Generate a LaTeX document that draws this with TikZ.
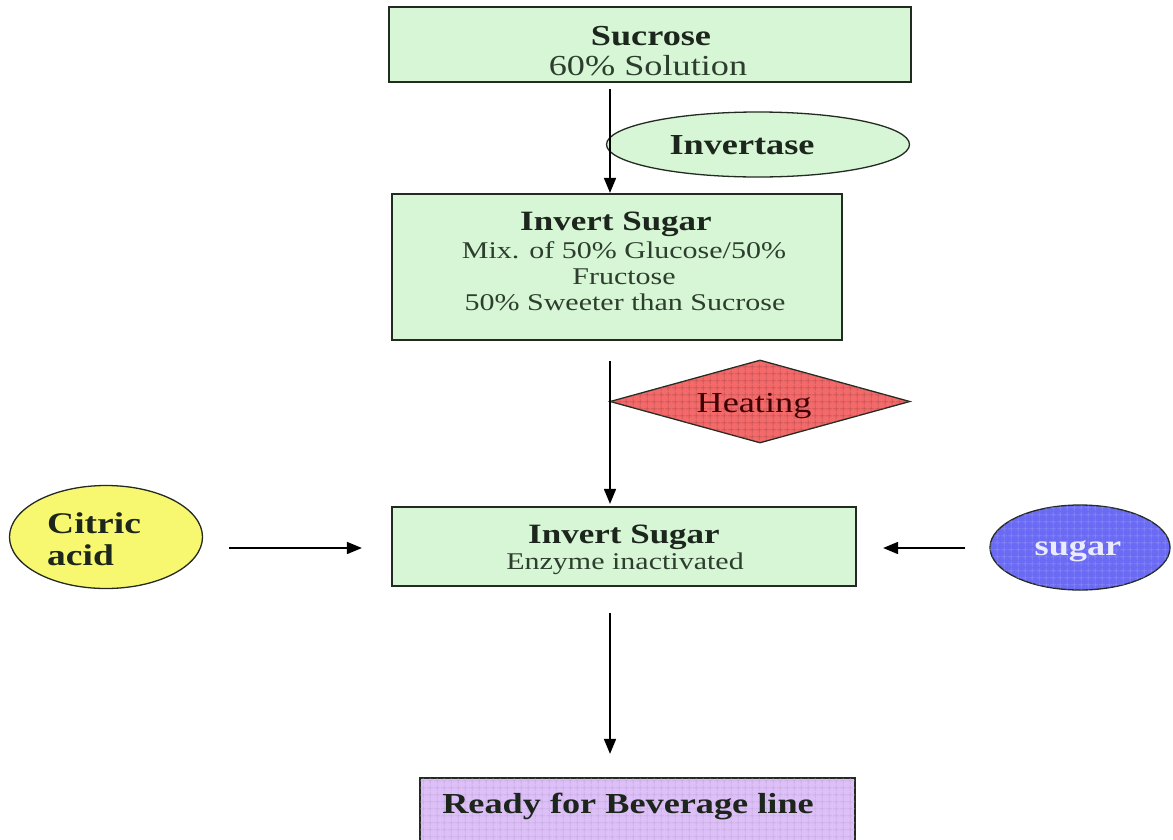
\documentclass[tikz,border=0pt]{standalone}
\usepackage{fontspec}
\setmainfont{Liberation Serif}[FakeStretch=1.25]
\usetikzlibrary{shapes.geometric,arrows.meta,patterns.meta}
\definecolor{boxgreen}{HTML}{D6F6D6}
\definecolor{heatred}{HTML}{F46A6A}
\definecolor{cityellow}{HTML}{F8F870}
\definecolor{sugblue}{HTML}{6A6AF4}
\definecolor{readypurple}{HTML}{DEC0F8}
\definecolor{ink}{HTML}{1C261C}
\definecolor{inklight}{HTML}{2E3E2E}
\definecolor{edge}{HTML}{222A22}
\tikzdeclarepattern{name=fgrid, type=uncolored,
  bounding box={(0pt,0pt) and (7pt,7pt)}, tile size={(7pt,7pt)},
  code={\draw[line width=0.5pt] (0pt,3.5pt)--(7pt,3.5pt); \draw[line width=0.5pt] (3.5pt,0pt)--(3.5pt,7pt);}}
\begin{document}
\begin{tikzpicture}[x=1pt,y=-1pt,
  box/.style={draw=edge, line width=2.2pt, fill=boxgreen, inner sep=0pt},
  oval/.style={ellipse, draw=edge, line width=1.3pt, inner sep=0pt},
  arr/.style={-{Triangle[length=15pt,width=12pt]}, line width=1.7pt, draw=black},
  txt/.style={text=ink, inner sep=0pt, anchor=base},
  big/.style={font=\fontsize{29}{33}\selectfont, text=inklight},
  small/.style={font=\fontsize{24}{28}\selectfont, text=inklight},
  bbig/.style={font=\fontsize{29}{33}\selectfont\bfseries},
  bmid/.style={font=\fontsize{28}{33}\selectfont\bfseries},
  ]
\useasboundingbox (0,0) rectangle (1173,839);
\clip (0,0) rectangle (1173,839);
\fill[white] (0,0) rectangle (1173,839);
\coordinate (colx) at (610,0);

% boxes
\node[box, minimum width=522pt, minimum height=75pt] (s1) at (650,44.5) {};
\node[box, minimum width=450pt, minimum height=146pt] (s2) at (617,267) {};
\node[box, minimum width=464pt, minimum height=79pt] (s3) at (624,546.5) {};
\node[box, fill=readypurple, minimum width=435pt, minimum height=84pt,
      postaction={pattern=fgrid, pattern color=readypurple!85!black}] (s4) at (637.5,820) {};

% side shapes
\node[oval, fill=boxgreen, minimum width=303pt, minimum height=65pt] (inv) at (758,144.5) {};
\node[diamond, draw=edge, line width=1.3pt, fill=heatred, inner sep=0pt,
      minimum width=300pt, minimum height=83pt,
      postaction={pattern=fgrid, pattern color=heatred!70!black}] (heat) at (760,401.5) {};
\node[oval, fill=cityellow, minimum width=193pt, minimum height=103pt] (cit) at (106,537) {};
\node[oval, fill=sugblue, minimum width=180pt, minimum height=85pt,
      postaction={pattern=fgrid, pattern color=sugblue!70!white}] (sug) at (1080,547.5) {};

% texts
\node[txt, bbig] (t1a) at (651,45) {Sucrose};
\node[txt, big] (t1b) at (648,75) {60\% Solution};
\node[txt, bmid] (t2a) at (616,230) {Invert Sugar};
\node[txt, small] (t2b) at (624,258) {Mix. of 50\% Glucose/50\%};
\node[txt, small] (t2c) at (624,284) {Fructose};
\node[txt, small] (t2d) at (625,310) {50\% Sweeter than Sucrose};
\node[txt, bmid] (t3a) at (624,543) {Invert Sugar};
\node[txt, small] (t3b) at (625,569) {Enzyme inactivated};
\node[txt, bbig] (t4) at (628,813) {Ready for Beverage line};
\node[txt, bbig] (tinv) at (742,154) {Invertase};
\node[txt, big, text=black!75!red] (theat) at (754,412) {Heating};
\node[txt, font=\fontsize{30}{33}\selectfont\bfseries, anchor=base west] (tcit1) at (47,533) {Citric};
\node[txt, font=\fontsize{30}{33}\selectfont\bfseries, anchor=base west] (tcit2) at (47,565) {acid};
\node[txt, bbig, text=white!92!blue] (tsug) at (1078,555) {sugar};

% connectors
\draw[arr] ([yshift=-6pt]s1.south -| colx) -- (s2.north -| colx);
\draw[arr] ([yshift=-20pt]s2.south -| colx) -- ([yshift=2pt]s3.north -| colx);
\draw[arr] ([yshift=-26pt]s3.south -| colx) -- ([yshift=23pt]s4.north -| colx);
\draw[arr] ([xshift=26pt]cit.east |- 0,548) -- ([xshift=-29pt]s3.west |- 0,548);
\draw[arr] ([xshift=-24pt]sug.west |- 0,548) -- ([xshift=26pt]s3.east |- 0,548);
\end{tikzpicture}
\end{document}
